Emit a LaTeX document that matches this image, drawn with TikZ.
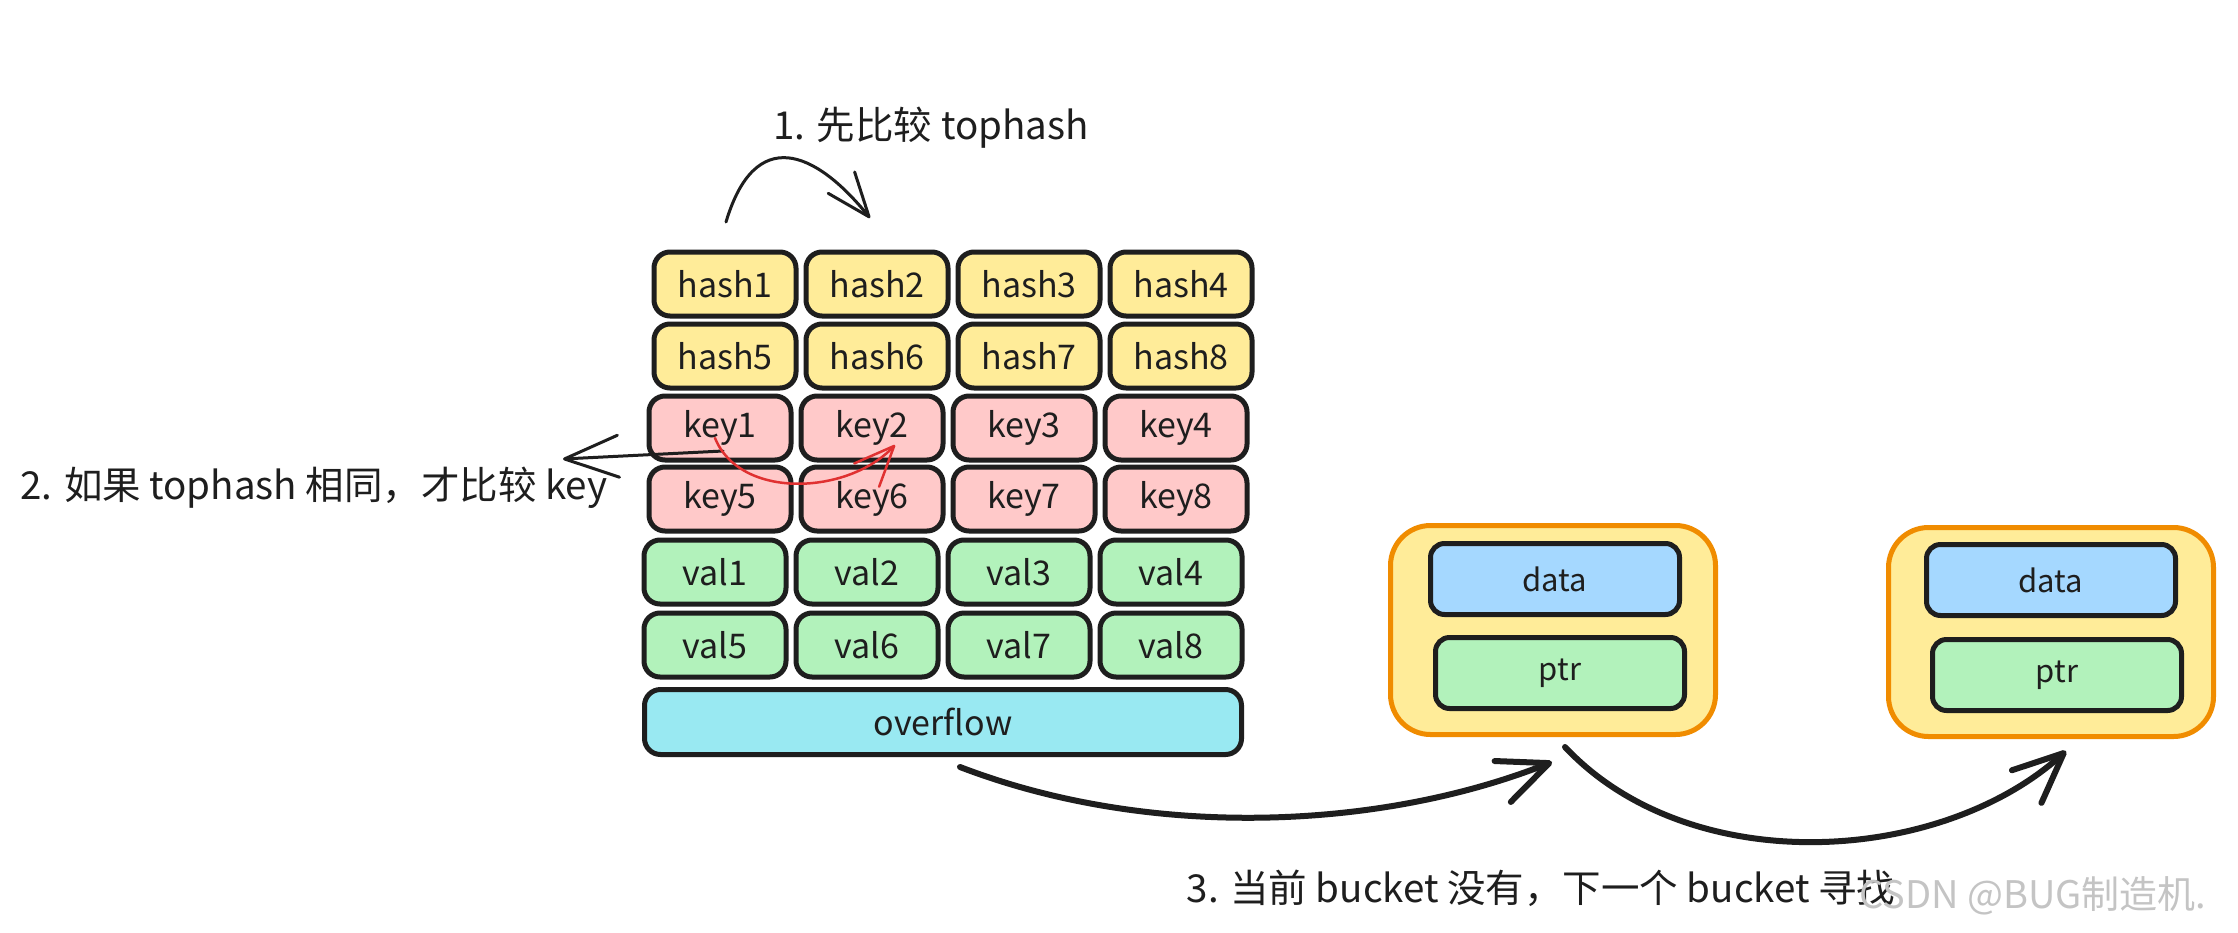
\documentclass[tikz,border=0pt]{standalone}
\usepackage{fontspec}
\setmainfont{Noto Sans CJK SC}
\usetikzlibrary{arrows.meta}
\definecolor{cyellow}{HTML}{FFEC99}
\definecolor{cpink}{HTML}{FFC9C9}
\definecolor{cgreen}{HTML}{B2F2BB}
\definecolor{ccyan}{HTML}{99E9F2}
\definecolor{cblue}{HTML}{A5D8FF}
\definecolor{corange}{HTML}{F08C00}
\definecolor{cred}{HTML}{E03131}
\definecolor{cink}{HTML}{1E1E1E}
\definecolor{cmark}{HTML}{C4C4C4}
\begin{document}
\begin{tikzpicture}[x=1pt,y=-1pt,
  cell/.style={draw=cink,line width=5pt,rounded corners=16pt,minimum width=142pt,minimum height=64pt,inner sep=0pt,font=\fontsize{34}{40}\selectfont,text=cink},
  wide/.style={cell,minimum width=597pt,minimum height=65pt},
  bucket/.style={draw=corange,fill=cyellow,line width=5pt,rounded corners=40pt,minimum width=325pt,minimum height=209pt,inner sep=0pt},
  part/.style={draw=cink,line width=5pt,rounded corners=14pt,minimum width=249pt,minimum height=71pt,inner sep=0pt,font=\fontsize{31}{36}\selectfont,text=cink},
  note/.style={font=\fontsize{38.5}{44}\selectfont,text=cink,inner sep=0pt},
  thin/.style={draw=cink,line width=3pt,line cap=round},
  thick/.style={draw=cink,line width=6pt,line cap=round},
]
\useasboundingbox (0,0) rectangle (2238,932);
\fill[white] (0,0) rectangle (2238,932);

% grid of cells
\foreach \i/\j in {1/5,2/6,3/7,4/8} {
  \node[cell,fill=cyellow] (h\i) at ({725+(\i-1)*152},284) {hash\i};
  \node[cell,fill=cyellow] (h\j) at ({725+(\i-1)*152},356) {hash\j};
  \node[cell,fill=cpink]   (k\i) at ({720+(\i-1)*152},428) {key\i};
  \node[cell,fill=cpink]   (k\j) at ({720+(\i-1)*152},499) {key\j};
  \node[cell,fill=cgreen]  (v\i) at ({715+(\i-1)*152},572) {val\i};
  \node[cell,fill=cgreen]  (v\j) at ({715+(\i-1)*152},645) {val\j};
}
\node[wide,fill=ccyan] (ovf) at (943,722) {overflow};

% buckets
\node[bucket] (b1) at (1553,630) {};
\node[part,fill=cblue]  (d1) at (1555,579) {data};
\node[part,fill=cgreen] (p1) at (1560,673) {ptr};
\node[bucket] (b2) at (2051,632) {};
\node[part,fill=cblue]  (d2) at (2051,580) {data};
\node[part,fill=cgreen] (p2) at (2057,675) {ptr};

% texts
\node[note] (t1) at (931,128) {1. 先比较 tophash};
\node[note] (t2) at (314,488) {2. 如果 tophash 相同，才比较 key};
\node[note] (t3) at (1541,888) {3. 当前 bucket 没有，下一个 bucket 寻找};
\node[font=\fontsize{38}{44}\selectfont,text=cmark,inner sep=0pt] (wm) at (2033,896) {CSDN @BUG制造机.};

% connectors
\coordinate (a1s) at (726,222);
\coordinate (a1e) at (870,218);
\draw[thin,-{Straight Barb[length=44pt,width=34pt,round]}] (a1s) .. controls (755,125) and (815,150) .. (a1e);

\coordinate (a2s) at (723,451);
\coordinate (a2e) at (563,459);
\draw[thin,-{Straight Barb[length=54pt,width=42pt,round]}] (a2s) -- (a2e);

\coordinate (rs) at (715,438);
\coordinate (re) at (895,445);
\draw[draw=cred,line width=2.5pt,line cap=round,-{Straight Barb[length=40pt,width=34pt,round]}] (rs) .. controls (740,500) and (848,495) .. (re);

\coordinate (o1s) at (960,767);
\coordinate (o1e) at (1552,762);
\draw[thick,-{Straight Barb[length=50pt,width=44pt,round]}] (o1s) .. controls (1150,840) and (1380,830) .. (o1e);

\coordinate (o2s) at (1565,747);
\coordinate (o2e) at (2066,751);
\draw[thick,-{Straight Barb[length=50pt,width=44pt,round]}] (o2s) .. controls (1690,880) and (1940,865) .. (o2e);
\end{tikzpicture}
\end{document}
